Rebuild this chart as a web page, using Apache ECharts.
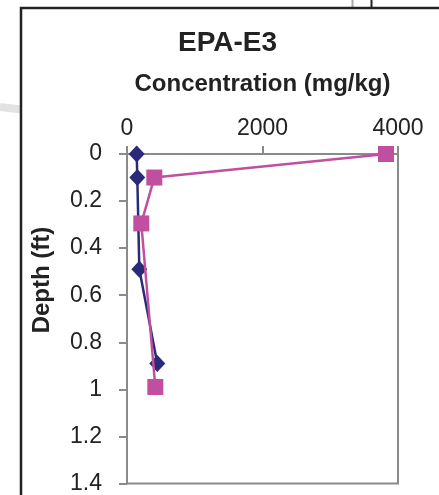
<!DOCTYPE html>
<html>
<head>
<meta charset="utf-8">
<script src="https://cdn.jsdelivr.net/npm/echarts@6/dist/echarts.min.js"></script>
<style>
html,body{margin:0;padding:0;background:#fff;}
#chart{width:439px;height:495px;}
</style>
</head>
<body>
<div id="chart"></div>
<script>
// Data
var depthA = [0, 0.1, 0.49, 0.89];
var concA  = [143, 152, 182, 447];
var depthB = [0, 0.1, 0.295, 0.99];
var concB  = [3823, 403, 211, 418];
var xTicks = [0, 2000, 4000];
var yTicks = [0, 0.2, 0.4, 0.6, 0.8, 1, 1.2, 1.4];

var FONT = "'Liberation Sans', Arial, sans-serif";
var AXIS_GRAY = '#8a8a8a';

function zip(xs, ys) { return xs.map(function (x, i) { return [x, ys[i]]; }); }

var chart = echarts.init(document.getElementById('chart'), null, {renderer: 'canvas'});
chart.setOption({
  animation: false,
  backgroundColor: '#ffffff',
  title: {
    text: 'EPA-E3',
    left: 178, top: 29, padding: 0,
    textStyle: {fontFamily: FONT, fontSize: 28, fontWeight: 'bold', color: '#222'}
  },
  grid: {
    left: 127, top: 154, right: 41, bottom: 9,
    show: true, borderColor: AXIS_GRAY, borderWidth: 2, backgroundColor: 'transparent'
  },
  xAxis: {
    type: 'value', position: 'top',
    min: xTicks[0], max: xTicks[xTicks.length - 1], interval: xTicks[1] - xTicks[0],
    name: 'Concentration (mg/kg)', nameLocation: 'middle', nameGap: 58,
    nameTextStyle: {fontFamily: FONT, fontSize: 24, fontWeight: 'bold', color: '#222'},
    axisLine: {show: true, lineStyle: {color: AXIS_GRAY, width: 2}},
    axisTick: {show: true, inside: false, length: 8, lineStyle: {color: AXIS_GRAY, width: 2}},
    axisLabel: {fontFamily: FONT, fontSize: 23, color: '#222', margin: 14,
                formatter: function (v) { return String(v); }},
    splitLine: {show: false}
  },
  yAxis: {
    type: 'value', inverse: true,
    min: yTicks[0], max: yTicks[yTicks.length - 1], interval: 0.2,
    axisLine: {show: true, lineStyle: {color: AXIS_GRAY, width: 2}},
    axisTick: {show: true, inside: false, length: 8, lineStyle: {color: AXIS_GRAY, width: 2}},
    axisLabel: {fontFamily: FONT, fontSize: 23, color: '#222', margin: 25},
    splitLine: {show: false}
  },
  graphic: [
    {type: 'line', shape: {x1: 0, y1: 107, x2: 21, y2: 109.5}, style: {stroke: '#e2e2e2', lineWidth: 8}, z: 0},
    {type: 'rect', shape: {x: 21, y: 8, width: 600, height: 600}, style: {fill: null, stroke: '#222', lineWidth: 2.5}, z: 1},
    {type: 'line', shape: {x1: 352.5, y1: 0, x2: 352.5, y2: 7}, style: {stroke: '#aaaaaa', lineWidth: 2}},
    {type: 'line', shape: {x1: 371.5, y1: 0, x2: 371.5, y2: 7}, style: {stroke: '#222', lineWidth: 2}},
    {
      type: 'text', x: 42, y: 280, rotation: Math.PI / 2,
      style: {text: 'Depth (ft)', fontFamily: FONT, fontSize: 24, fontWeight: 'bold', fill: '#222',
              align: 'center', verticalAlign: 'middle'}
    }
  ],
  series: [
    {
      name: 'Series 1', type: 'line', data: zip(concA, depthA),
      symbol: 'diamond', symbolSize: [16, 17],
      lineStyle: {color: '#2A2A78', width: 2.5},
      itemStyle: {color: '#2A2A78'}, z: 3
    },
    {
      name: 'Series 2', type: 'line', data: zip(concB, depthB),
      symbol: 'rect', symbolSize: 16,
      lineStyle: {color: '#C04FA0', width: 2.5},
      itemStyle: {color: '#C04FA0'}, z: 4
    }
  ]
});
</script>
</body>
</html>
